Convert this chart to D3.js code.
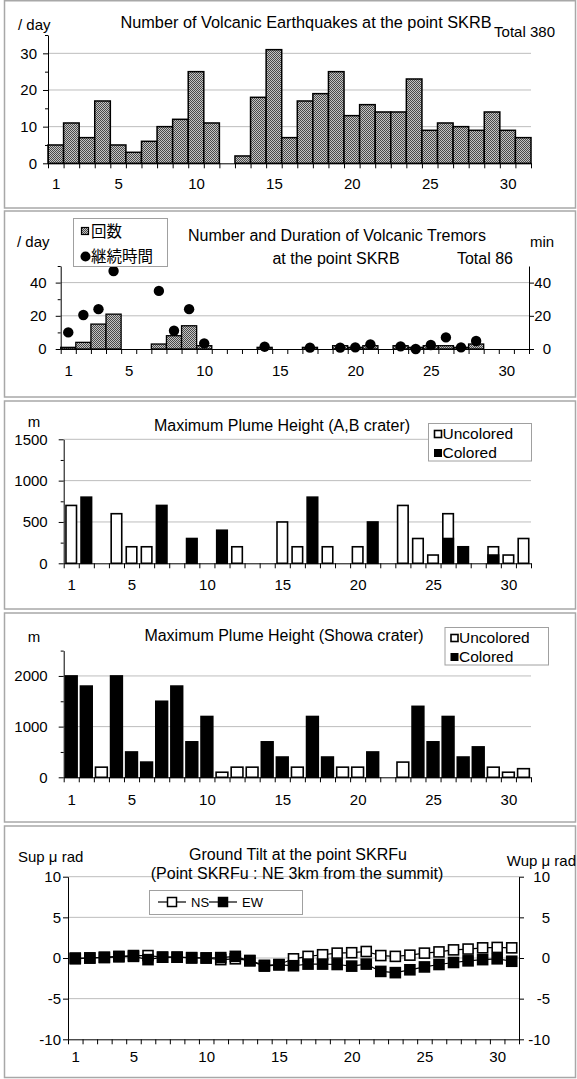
<!DOCTYPE html>
<html>
<head>
<meta charset="utf-8">
<script src="https://cdn.jsdelivr.net/npm/d3@7"></script>
<style>
body { margin: 0; background: #fff; }
svg { display: block; }
</style>
</head>
<body>
<div id="chart"></div>
<script>
// ---- data ----
const days = d3.range(1, 32);
const dayLabels = [1, 5, 10, 15, 20, 25, 30];

const quakes = [5, 11, 7, 17, 5, 3, 6, 10, 12, 25, 11, 0, 2, 18, 31, 7, 17, 19, 25, 13, 16, 14, 14, 23, 9, 11, 10, 9, 14, 9, 7];

const tremorCount = [1, 4, 15, 21, 0, 0, 3, 8, 14, 2, 0, 0, 0, 1, 0, 0, 1, 0, 2, 1, 2, 0, 2, 1, 2, 2, 1, 3, 0, 0, 0];
const tremorMinutes = [10, 20.5, 24, 47, null, null, 35, 11, 24, 3.4, null, null, null, 1.4, null, null, 0.8, null, 0.8, 1, 2.8, null, 1.6, 0, 2.4, 7, 1, 4.8, null, null, null];

const abUncolored = [700, null, 0, 600, 200, 200, null, null, null, null, null, 200, 0, null, 500, 200, null, 200, 0, 200, null, 0, 700, 300, 100, 600, null, null, 200, 100, 300];
const abColored = [null, 800, null, null, null, null, 700, null, 300, null, 400, null, null, null, null, null, 800, null, null, null, 500, null, null, null, null, 300, 200, null, 100, null, null];

const showaUncolored = [null, null, 200, null, null, null, null, null, null, null, 100, 200, 200, null, null, 200, null, null, 200, 200, null, 0, 300, null, null, null, null, null, 200, 100, 170];
const showaColored = [2000, 1800, null, 2000, 500, 300, 1500, 1800, 700, 1200, null, null, null, 700, 400, null, 1200, 400, null, null, 500, null, null, 1400, 700, 1200, 400, 600, null, null, null];

const tiltNS = [0, 0, 0.1, 0.2, 0.3, 0.3, 0.1, 0.1, 0, 0, -0.2, -0.1, -0.3, -0.9, -0.8, -0.1, 0.2, 0.4, 0.6, 0.65, 0.8, 0.3, 0.2, 0.35, 0.6, 0.75, 1.0, 1.1, 1.25, 1.3, 1.25];
const tiltEW = [-0.1, 0, 0.05, 0.15, 0.2, -0.2, 0.1, 0.1, 0.05, 0, 0.05, 0.2, -0.35, -1.0, -0.85, -0.95, -0.75, -0.75, -0.8, -1.0, -0.75, -1.65, -1.8, -1.45, -1.1, -0.8, -0.55, -0.35, -0.2, -0.1, -0.4];

// ---- setup ----
const font = '"Liberation Sans", Arial, sans-serif';
const jpFont = '"Noto Sans CJK JP", sans-serif';
const FS = 15;

let svg = d3.select("#chart").append("svg").attr("width", 577).attr("height", 1079)
  .attr("font-family", font).attr("font-size", FS);

// stippled grey fill like the old Excel pattern
let pat = svg.append("defs").append("pattern").attr("id", "dots")
  .attr("width", 2).attr("height", 2).attr("patternUnits", "userSpaceOnUse");
pat.append("rect").attr("width", 2).attr("height", 2).attr("fill", "#c4c4c4");
pat.append("rect").attr("width", 1).attr("height", 1).attr("fill", "#4a4a4a");
pat.append("rect").attr("x", 1).attr("y", 1).attr("width", 1).attr("height", 1).attr("fill", "#4a4a4a");

function frame(y0, y1) {
  svg.append("rect").attr("x", 4.5).attr("y", y0).attr("width", 571).attr("height", y1 - y0)
    .attr("fill", "none").attr("stroke", "#a8a8a8").attr("stroke-width", 1.5);
}

function styleAxis(g) {
  g.selectAll("g").attr("font-family", font).attr("font-size", FS);
  g.selectAll("text").attr("fill", "#000");
  g.selectAll("line, path").attr("stroke", "#000");
}

function text(x, y, str, anchor, size, family) {
  return svg.append("text").attr("x", x).attr("y", y).attr("text-anchor", anchor || "start")
    .attr("font-size", size || FS).attr("font-family", family || font).attr("fill", "#000").text(str);
}

function grid(y, values, x0, x1) {
  svg.append("g").selectAll("line").data(values).join("line")
    .attr("x1", x0).attr("x2", x1).attr("y1", d => y(d)).attr("y2", d => y(d))
    .attr("stroke", "#bdbdbd").attr("stroke-width", 1);
}

function bottomAxis(xl, y0, pad) {
  let g = svg.append("g").attr("transform", "translate(0," + y0 + ")");
  g.append("g").call(d3.axisBottom(xl).tickValues(d3.range(0.5, 32, 1)).tickSize(5).tickSizeOuter(0).tickFormat(""));
  g.append("g").call(d3.axisBottom(xl).tickValues(dayLabels).tickSize(0).tickPadding(pad))
    .call(a => a.select(".domain").remove());
  styleAxis(g);
}

function leftAxis(y, x0, major, minor, pad) {
  let g = svg.append("g").attr("transform", "translate(" + x0 + ",0)");
  g.append("g").call(d3.axisLeft(y).tickValues(major).tickSize(5).tickSizeOuter(0).tickPadding(pad).tickFormat(d => d));
  if (minor) g.append("g").call(d3.axisLeft(y).tickValues(minor).tickSize(3).tickFormat(""))
    .call(a => a.select(".domain").remove());
  styleAxis(g);
}

// right axis with labels right-aligned at labelX
function rightAxis(y, x0, major, labelX) {
  let g = svg.append("g").attr("transform", "translate(" + x0 + ",0)");
  g.append("g").call(d3.axisRight(y).tickValues(major).tickSize(5).tickSizeOuter(0).tickFormat(d => d));
  g.selectAll("text").attr("text-anchor", "end").attr("x", labelX - x0);
  styleAxis(g);
}

// ================= Panel 1: volcanic earthquakes =================
frame(0.75, 208);
{
  let x = d3.scaleBand().domain(days).range([48, 531]);
  let xl = d3.scaleLinear().domain([0.5, 31.5]).range([48, 531]);
  let y = d3.scaleLinear().domain([0, 35]).range([163.3, 35]);

  grid(y, [10, 20, 30], 48, 531);
  svg.append("g").selectAll("rect").data(days.filter((d, i) => quakes[i] > 0)).join("rect")
    .attr("x", d => x(d)).attr("width", x.bandwidth())
    .attr("y", d => y(quakes[d - 1])).attr("height", d => y(0) - y(quakes[d - 1]))
    .attr("fill", "url(#dots)").attr("stroke", "#000").attr("stroke-width", 1.5);
  bottomAxis(xl, y(0), 15);
  leftAxis(y, 48, [0, 10, 20, 30], [5, 15, 25, 35], 6);

  text(18, 30, "/ day", "start");
  text(306, 28, "Number of Volcanic Earthquakes at the point SKRB", "middle", 16.3);
  text(555, 37, "Total " + d3.sum(quakes), "end");
}

// ================= Panel 2: volcanic tremors =================
frame(211, 397);
{
  let x = d3.scaleBand().domain(days).range([60.7, 529]);
  let xl = d3.scaleLinear().domain([0.5, 31.5]).range([60.7, 529]);
  let y = d3.scaleLinear().domain([0, 50]).range([349, 266]);
  let y2 = d3.scaleLinear().domain([0, 50]).range([349, 266]);

  grid(y, [20, 40], 60.7, 529);
  svg.append("g").selectAll("rect").data(days.filter((d, i) => tremorCount[i] > 0)).join("rect")
    .attr("x", d => x(d)).attr("width", x.bandwidth())
    .attr("y", d => y(tremorCount[d - 1])).attr("height", d => y(0) - y(tremorCount[d - 1]))
    .attr("fill", "url(#dots)").attr("stroke", "#000").attr("stroke-width", 1.3);
  bottomAxis(xl, y(0), 16);
  leftAxis(y, 60.7, [0, 20, 40], [10, 30, 50], 9);
  rightAxis(y2, 529, [0, 20, 40], 551);
  svg.append("g").selectAll("circle").data(days.filter((d, i) => tremorMinutes[i] != null)).join("circle")
    .attr("cx", d => x(d) + x.bandwidth() / 2).attr("cy", d => y2(tremorMinutes[d - 1]))
    .attr("r", 5.2).attr("fill", "#000");

  // legend
  svg.append("rect").attr("x", 73.5).attr("y", 218.5).attr("width", 94).attr("height", 48)
    .attr("fill", "#fff").attr("stroke", "#a0a0a0");
  svg.append("rect").attr("x", 81.5).attr("y", 227.5).attr("width", 7).attr("height", 7)
    .attr("fill", "url(#dots)").attr("stroke", "#000").attr("stroke-width", 1.2);
  text(91, 237, "回数", "start", 15.5, jpFont);
  svg.append("circle").attr("cx", 85.5).attr("cy", 256.5).attr("r", 5).attr("fill", "#000");
  text(91, 262, "継続時間", "start", 15.5, jpFont);

  text(17, 247, "/ day", "start");
  text(530, 247, "min", "start");
  text(337, 241, "Number and Duration of Volcanic Tremors", "middle", 16);
  text(336, 264, "at the point SKRB", "middle", 16);
  text(513, 264, "Total " + d3.sum(tremorCount), "end", 16);
}

// plume chart helper (uncolored drawn first, colored on top)
function plumePanel(unc, col, x, y, widthRatio) {
  let bw = x.bandwidth() * widthRatio;
  let off = (x.bandwidth() - bw) / 2;
  svg.append("g").selectAll("rect").data(days.filter((d, i) => unc[i] != null)).join("rect")
    .attr("x", d => x(d) + off).attr("width", bw)
    .attr("y", d => y(unc[d - 1])).attr("height", d => y(0) - y(unc[d - 1]))
    .attr("fill", "#fff").attr("stroke", "#000").attr("stroke-width", 1.6);
  svg.append("g").selectAll("rect").data(days.filter((d, i) => col[i] != null)).join("rect")
    .attr("x", d => x(d) + off).attr("width", bw)
    .attr("y", d => y(col[d - 1])).attr("height", d => y(0) - y(col[d - 1]))
    .attr("fill", "#000").attr("stroke", "#000").attr("stroke-width", 1.6);
}

function plumeLegend(x0, y0, w, h) {
  svg.append("rect").attr("x", x0).attr("y", y0).attr("width", w).attr("height", h)
    .attr("fill", "#fff").attr("stroke", "#a0a0a0");
  svg.append("rect").attr("x", x0 + 6).attr("y", y0 + 7).attr("width", 7).attr("height", 7)
    .attr("fill", "#fff").attr("stroke", "#000").attr("stroke-width", 1.6);
  text(x0 + 14, y0 + 15.5, "Uncolored", "start", 15.5);
  svg.append("rect").attr("x", x0 + 5.5).attr("y", y0 + 25.5).attr("width", 8).attr("height", 8).attr("fill", "#000");
  text(x0 + 14, y0 + 34.5, "Colored", "start", 15.5);
}

// ================= Panel 3: plume A,B crater =================
frame(401, 609);
{
  let x = d3.scaleBand().domain(days).range([63.7, 531]);
  let xl = d3.scaleLinear().domain([0.5, 31.5]).range([63.7, 531]);
  let y = d3.scaleLinear().domain([0, 1500]).range([563.3, 439.3]);

  grid(y, [500, 1000, 1500], 63.7, 531);
  plumePanel(abUncolored, abColored, x, y, 0.7);
  bottomAxis(xl, y(0), 16);
  leftAxis(y, 63.7, [0, 500, 1000, 1500], [250, 750, 1250], 11);

  text(34, 427, "m", "middle");
  text(282, 431, "Maximum Plume Height (A,B crater)", "middle", 16);
  plumeLegend(428.5, 423.5, 103, 37.5);
}

// ================= Panel 4: plume Showa crater =================
frame(613, 822);
{
  let x = d3.scaleBand().domain(days).range([63.7, 531]);
  let xl = d3.scaleLinear().domain([0.5, 31.5]).range([63.7, 531]);
  let y = d3.scaleLinear().domain([0, 2500]).range([777.3, 650.6]);

  grid(y, [1000, 2000], 63.7, 531);
  plumePanel(showaUncolored, showaColored, x, y, 0.78);
  bottomAxis(xl, y(0), 17);
  leftAxis(y, 63.7, [0, 1000, 2000], [500, 1500, 2500], 11);

  text(34, 642, "m", "middle");
  text(284, 641, "Maximum Plume Height (Showa crater)", "middle", 16);
  plumeLegend(445, 627.5, 103.5, 37.5);
}

// ================= Panel 5: ground tilt =================
frame(826, 1077.5);
{
  let xl = d3.scaleLinear().domain([0.5, 31.5]).range([68, 519]);
  let y = d3.scaleLinear().domain([-10, 10]).range([1039.3, 876.7]);

  grid(y, [10, 5, 0, -5], 68, 519);
  text(298, 860, "Ground Tilt at the point SKRFu", "middle", 16);
  text(297, 879, "(Point SKRFu : NE 3km from the summit)", "middle", 16);

  bottomAxis(xl, y(-10), 12);
  leftAxis(y, 68, [-10, -5, 0, 5, 10], null, 2);
  rightAxis(y, 519, [-10, -5, 0, 5, 10], 550);

  let line = d3.line().x((d, i) => xl(i + 1)).y(d => y(d));
  svg.append("path").datum(tiltNS).attr("d", line).attr("fill", "none").attr("stroke", "#000").attr("stroke-width", 1.2);
  svg.append("path").datum(tiltEW).attr("d", line).attr("fill", "none").attr("stroke", "#000").attr("stroke-width", 1.2);
  let ms = 10;
  svg.append("g").selectAll("rect").data(tiltNS).join("rect")
    .attr("x", (d, i) => xl(i + 1) - ms / 2).attr("y", d => y(d) - ms / 2)
    .attr("width", ms).attr("height", ms).attr("fill", "#fff").attr("stroke", "#000").attr("stroke-width", 1.6);
  svg.append("g").selectAll("rect").data(tiltEW).join("rect")
    .attr("x", (d, i) => xl(i + 1) - ms / 2).attr("y", d => y(d) - ms / 2)
    .attr("width", ms).attr("height", ms).attr("fill", "#000").attr("stroke", "#000").attr("stroke-width", 1.6);

  text(18, 862, "Sup μ rad", "start");
  text(576, 866, "Wup μ rad", "end");

  // legend
  svg.append("rect").attr("x", 149.5).attr("y", 890.5).attr("width", 153).attr("height", 24)
    .attr("fill", "#fff").attr("stroke", "#a0a0a0");
  [["NS", "#fff", 158], ["EW", "#000", 209]].forEach(([name, fill, lx]) => {
    svg.append("line").attr("x1", lx).attr("x2", lx + 28).attr("y1", 902).attr("y2", 902)
      .attr("stroke", "#000").attr("stroke-width", 1.2);
    svg.append("rect").attr("x", lx + 14 - 4.5).attr("y", 902 - 4.5).attr("width", 9).attr("height", 9)
      .attr("fill", fill).attr("stroke", "#000").attr("stroke-width", 1.5);
    text(lx + 33, 907, name, "start", 13);
  });
}
</script>
</body>
</html>
